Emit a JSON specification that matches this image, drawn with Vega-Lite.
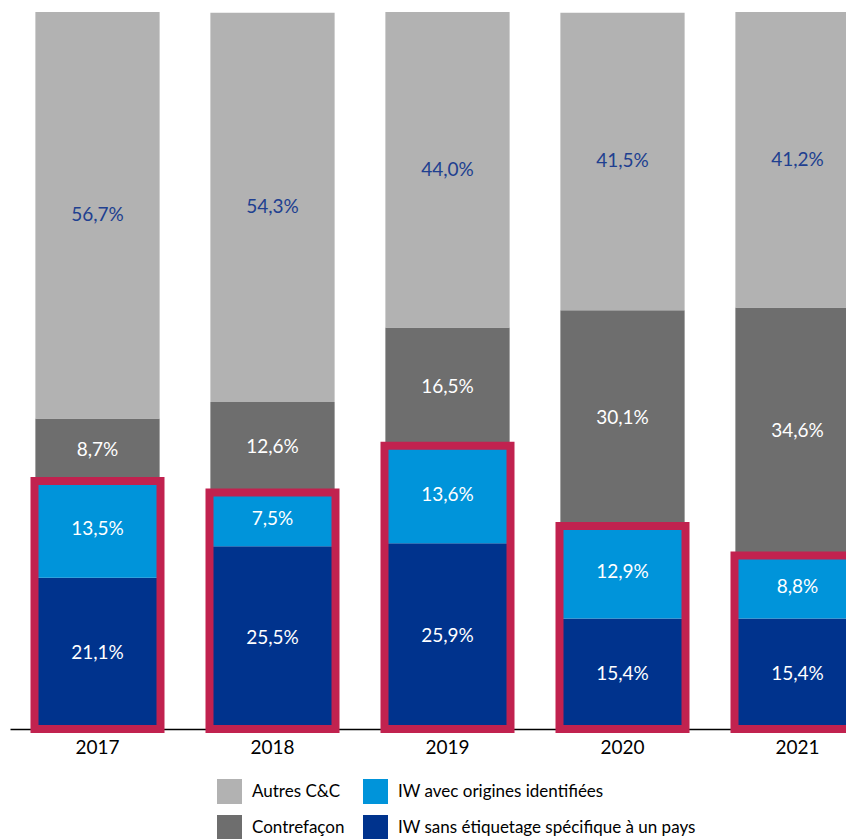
{
  "$schema": "https://vega.github.io/schema/vega-lite/v6.json",
  "width": 875,
  "height": 717,
  "autosize": {"type": "none"},
  "padding": {"left": 10, "top": 12, "right": 0, "bottom": 110},
  "background": "white",
  "config": {"view": {"stroke": null}},
  "data": {
    "values": [
      {"year": "2017", "cat": "IW sans étiquetage spécifique à un pays", "value": 21.1},
      {"year": "2017", "cat": "IW avec origines identifiées", "value": 13.5},
      {"year": "2017", "cat": "Contrefaçon", "value": 8.7},
      {"year": "2017", "cat": "Autres C&C", "value": 56.7},
      {"year": "2018", "cat": "IW sans étiquetage spécifique à un pays", "value": 25.5},
      {"year": "2018", "cat": "IW avec origines identifiées", "value": 7.5},
      {"year": "2018", "cat": "Contrefaçon", "value": 12.6},
      {"year": "2018", "cat": "Autres C&C", "value": 54.3},
      {"year": "2019", "cat": "IW sans étiquetage spécifique à un pays", "value": 25.9},
      {"year": "2019", "cat": "IW avec origines identifiées", "value": 13.6},
      {"year": "2019", "cat": "Contrefaçon", "value": 16.5},
      {"year": "2019", "cat": "Autres C&C", "value": 44.0},
      {"year": "2020", "cat": "IW sans étiquetage spécifique à un pays", "value": 15.4},
      {"year": "2020", "cat": "IW avec origines identifiées", "value": 12.9},
      {"year": "2020", "cat": "Contrefaçon", "value": 30.1},
      {"year": "2020", "cat": "Autres C&C", "value": 41.5},
      {"year": "2021", "cat": "IW sans étiquetage spécifique à un pays", "value": 15.4},
      {"year": "2021", "cat": "IW avec origines identifiées", "value": 8.8},
      {"year": "2021", "cat": "Contrefaçon", "value": 34.6},
      {"year": "2021", "cat": "Autres C&C", "value": 41.2}
    ]
  },
  "transform": [
    {"calculate": "indexof(['IW sans étiquetage spécifique à un pays','IW avec origines identifiées','Contrefaçon','Autres C&C'], datum.cat)", "as": "rank"}
  ],
  "encoding": {
    "x": {
      "field": "year",
      "type": "ordinal",
      "scale": {"paddingInner": 0.29, "paddingOuter": 0.145},
      "axis": {
        "title": null,
        "labelAngle": 0,
        "ticks": false,
        "grid": false,
        "domainColor": "#000000",
        "domainWidth": 1.5,
        "labelFontSize": 19,
        "labelFont": "Lato",
        "labelColor": "#000000",
        "labelPadding": 9
      }
    }
  },
  "layer": [
    {
      "mark": {"type": "bar"},
      "encoding": {
        "y": {"field": "value", "type": "quantitative", "stack": "zero", "scale": {"domain": [0, 100], "nice": false, "zero": true}, "axis": null},
        "color": {
          "field": "cat",
          "type": "nominal",
          "scale": {
            "domain": ["Autres C&C", "Contrefaçon", "IW avec origines identifiées", "IW sans étiquetage spécifique à un pays"],
            "range": ["#B2B2B2", "#6E6E6E", "#0094DA", "#00338D"]
          },
          "legend": {
            "title": null,
            "orient": "none",
            "legendX": 207,
            "legendY": 767,
            "columns": 2,
            "symbolType": "square",
            "symbolSize": 625,
            "symbolStrokeWidth": 0,
            "labelFontSize": 17,
            "labelFont": "Lato",
            "labelColor": "#000000",
            "labelLimit": 500,
            "rowPadding": 11,
            "columnPadding": 18,
            "labelOffset": 10,
            "padding": 0
          }
        },
        "order": {"field": "rank", "type": "quantitative"}
      }
    },
    {
      "transform": [
        {"filter": "datum.rank <= 1"},
        {"aggregate": [{"op": "sum", "field": "value", "as": "iw"}], "groupby": ["year"]}
      ],
      "mark": {"type": "bar", "width": 126, "fillOpacity": 0, "stroke": "#C1224F", "strokeWidth": 8},
      "encoding": {
        "y": {"field": "iw", "type": "quantitative", "scale": {"domain": [0, 100], "nice": false}}
      }
    },
    {
      "transform": [
        {"stack": "value", "groupby": ["year"], "sort": [{"field": "rank", "order": "ascending"}], "as": ["v0", "v1"]},
        {"calculate": "(datum.v0 + datum.v1) / 2", "as": "mid"},
        {"calculate": "replace(format(datum.value, '.1f'), '.', ',') + '%'", "as": "label"}
      ],
      "mark": {"type": "text", "fontSize": 19, "font": "Lato", "baseline": "middle", "align": "center"},
      "encoding": {
        "y": {"field": "mid", "type": "quantitative", "scale": {"domain": [0, 100], "nice": false}},
        "text": {"field": "label"},
        "color": {
          "condition": {"test": "datum.cat === 'Autres C&C'", "value": "#203F90"},
          "value": "#FFFFFF"
        }
      }
    }
  ]
}
